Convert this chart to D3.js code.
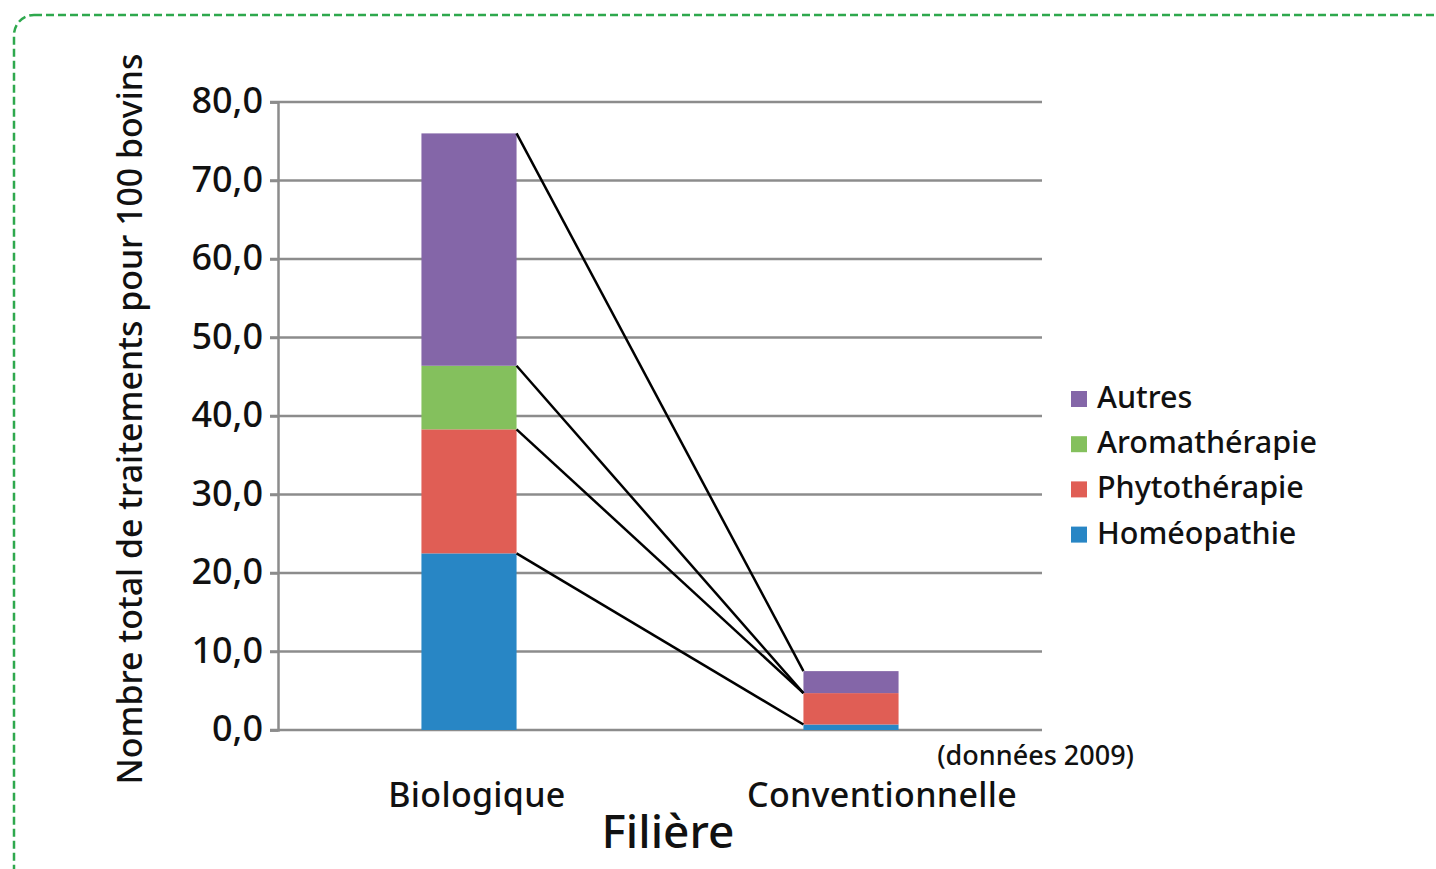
<!DOCTYPE html>
<html><head><meta charset="utf-8">
<script src="https://cdn.jsdelivr.net/npm/d3@7"></script>
<style>
body{margin:0;background:#fff;}
svg{display:block;font-family:"Noto Sans",sans-serif;font-weight:500;}
</style></head>
<body>
<svg id="chart" width="1436" height="869"></svg>
<script>
const categories = ["Biologique", "Conventionnelle"];
const seriesNames = ["Homéopathie", "Phytothérapie", "Aromathérapie", "Autres"];
const homeopathie = [22.5, 0.7];
const phytotherapie = [15.8, 4.0];
const aromatherapie = [8.1, 0.0];
const autres = [29.6, 2.8];
const yTicks = [0, 10, 20, 30, 40, 50, 60, 70, 80];
const tickLabels = ["0,0", "10,0", "20,0", "30,0", "40,0", "50,0", "60,0", "70,0", "80,0"];
const colors = ["#2886c5", "#e05e55", "#84c05d", "#8466a8"];

const series = [homeopathie, phytotherapie, aromatherapie, autres];
const table = categories.map((c, i) => {
  const o = {cat: c};
  seriesNames.forEach((s, j) => o[s] = series[j][i]);
  return o;
});
const stacked = d3.stack().keys(seriesNames)(table);

const svg = d3.select("#chart");

// dashed green border
svg.append("rect").attr("x", 14).attr("y", 15).attr("width", 1460).attr("height", 900)
  .attr("rx", 20).attr("fill", "none").attr("stroke", "#2ea84d").attr("stroke-width", 2.5)
  .attr("stroke-dasharray", "8,4");

const x = d3.scaleBand().domain(categories).range([278, 1042]).paddingInner(0.751).paddingOuter(0.3755);
const y = d3.scaleLinear().domain([0, 80]).range([730, 102]);

// gridlines
svg.append("g").selectAll("line").data(yTicks).join("line")
  .attr("x1", 270).attr("x2", 1042)
  .attr("y1", d => y(d)).attr("y2", d => y(d))
  .attr("stroke", "#8c8c8c").attr("stroke-width", 2.5);

// y axis
const yAxis = d3.axisLeft(y).tickValues(yTicks).tickFormat((d, i) => tickLabels[i]).tickSize(8).tickPadding(7);
const gy = svg.append("g").attr("transform", "translate(278,0)").call(yAxis);
gy.select(".domain").attr("stroke", "#8c8c8c").attr("stroke-width", 2.5);
gy.selectAll(".tick line").attr("stroke", "#8c8c8c").attr("stroke-width", 2.5);
gy.selectAll(".tick text").attr("font-size", 36).attr("fill", "#111").attr("font-family", "Noto Sans").attr("font-weight", 500).attr("dy", "0.3em");

// bars
svg.append("g").selectAll("g").data(stacked).join("g")
  .attr("fill", (d, i) => colors[i])
  .selectAll("rect").data(d => d).join("rect")
  .attr("x", d => x(d.data.cat))
  .attr("width", x.bandwidth())
  .attr("y", d => y(d[1]))
  .attr("height", d => y(d[0]) - y(d[1]));

// connecting lines
const bw = x.bandwidth();
const boundaries = [0, 1, 2, 3];
svg.append("g").selectAll("line").data(boundaries).join("line")
  .attr("x1", x(categories[0]) + bw)
  .attr("x2", x(categories[1]))
  .attr("y1", i => y(stacked[i][0][1]))
  .attr("y2", i => y(stacked[i][1][1]))
  .attr("stroke", "#000").attr("stroke-width", 2.5);

// category labels
const labelDx = [8, 31];
svg.append("g").selectAll("text").data(categories).join("text")
  .attr("x", (d, i) => x(d) + bw / 2 + labelDx[i])
  .attr("y", 807)
  .attr("text-anchor", "middle").attr("font-size", 34).attr("letter-spacing", 0.3).attr("fill", "#111")
  .text(d => d);

svg.append("text").attr("x", 668).attr("y", 848).attr("text-anchor", "middle")
  .attr("font-size", 46).attr("fill", "#111").text("Filière");

svg.append("text").attr("x", 1134).attr("y", 765).attr("text-anchor", "end")
  .attr("font-size", 27).attr("fill", "#111").text("(données 2009)");

svg.append("text").attr("transform", "translate(142,419) rotate(-90)")
  .attr("text-anchor", "middle").attr("font-size", 33.8).attr("fill", "#111")
  .text("Nombre total de traitements pour 100 bovins");

// legend
const legendOrder = [3, 2, 1, 0];
const lg = svg.append("g").selectAll("g").data(legendOrder).join("g")
  .attr("transform", (d, i) => `translate(1071,${399 + i * 45.2})`);
lg.append("rect").attr("x", 0).attr("y", -8).attr("width", 16).attr("height", 16).attr("fill", d => colors[d]);
lg.append("text").attr("x", 26).attr("y", 9).attr("font-size", 30.5).attr("fill", "#111").text(d => seriesNames[d]);
</script>
</body></html>
